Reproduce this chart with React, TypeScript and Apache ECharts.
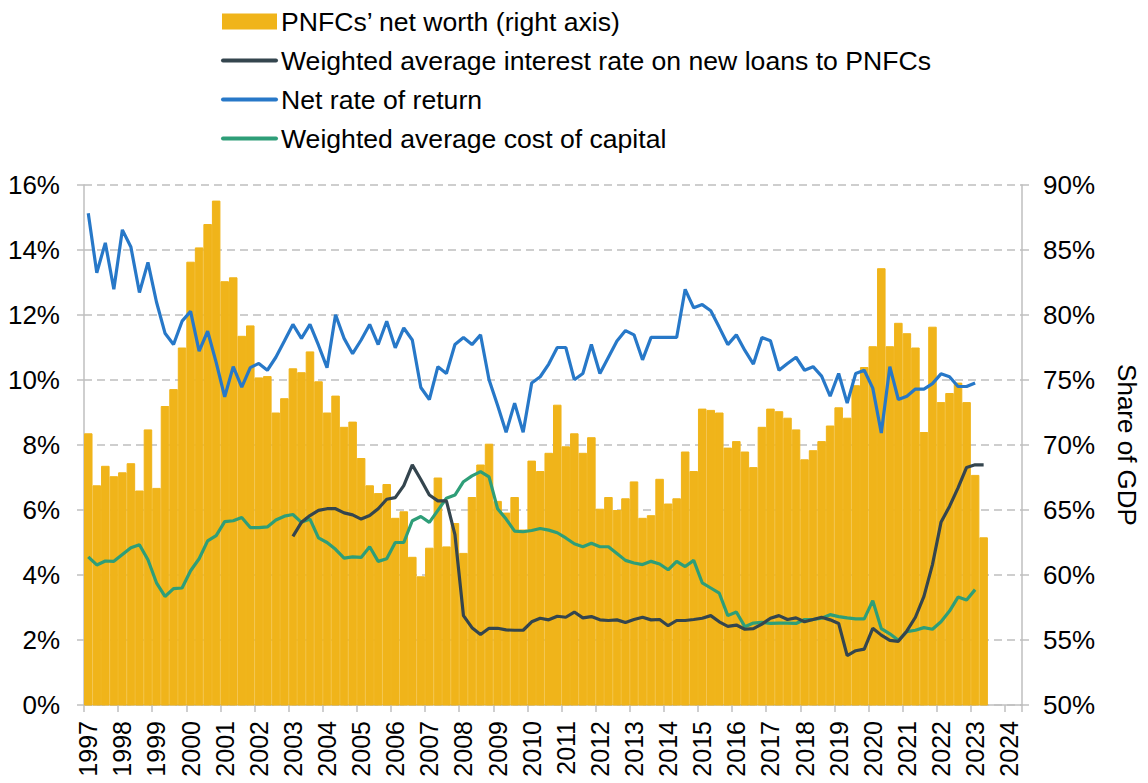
import React, { useEffect, useRef } from 'react';
import * as echarts from 'echarts';

// Quarterly categories 1997 Q1 .. 2024 Q2 (axis runs half a year past 2024)
const firstYear = 1997;
const lastYear = 2024;
const quarters: string[] = [];
for (let y = firstYear; y <= lastYear; y++) {
  for (let q = 1; q <= 4; q++) {
    if (y === lastYear && q > 2) break;
    quarters.push(`${y} Q${q}`);
  }
}

const NAME_NW = 'PNFCs\u2019 net worth (right axis)';
const NAME_IR = 'Weighted average interest rate on new loans to PNFCs';
const NAME_NR = 'Net rate of return';
const NAME_WACC = 'Weighted average cost of capital';

// PNFCs' net worth, % of GDP (right axis), 1997 Q1 .. 2023 Q2
const netWorth = [
  70.9, 66.9, 68.4, 67.6,
  67.9, 68.6, 66.5, 71.2,
  66.7, 73.0, 74.3, 77.5,
  84.1, 85.2, 87.0, 88.8,
  82.6, 82.9, 78.4, 79.2,
  75.2, 75.3, 72.5, 73.6,
  75.9, 75.6, 77.2, 74.9,
  72.5, 73.8, 71.4, 71.8,
  69.0, 66.9, 66.3, 67.0,
  64.4, 64.9, 61.4, 59.9,
  62.1, 67.5, 62.2, 64.0,
  61.7, 66.0, 68.5, 70.1,
  65.7, 64.8, 66.0, 63.5,
  68.8, 68.0, 69.4, 73.1,
  69.9, 70.9, 69.4, 70.6,
  65.1, 66.0, 65.0, 65.9,
  67.2, 64.4, 64.6, 67.4,
  65.5, 65.9, 69.5, 68.0,
  72.8, 72.7, 72.5, 69.8,
  70.3, 69.5, 68.3, 71.4,
  72.8, 72.6, 72.1, 71.2,
  68.9, 69.6, 70.3, 71.5,
  72.9, 72.1, 74.6, 76.0,
  77.6, 83.6, 77.6, 79.4,
  78.6, 77.5, 71.0, 79.1,
  73.3, 74.0, 74.8, 73.3,
  67.7, 62.9,
];

// Weighted average interest rate on new loans, %, 2003 Q1 .. 2023 Q2
const interestStart = '2003 Q1';
const interestRate = [
  5.19, 5.62, 5.83, 5.99,
  6.04, 6.04, 5.91, 5.85,
  5.72, 5.83, 6.04, 6.33,
  6.38, 6.75, 7.39, 6.94,
  6.46, 6.28, 6.28, 5.24,
  2.75, 2.38, 2.17, 2.36,
  2.36, 2.31, 2.30, 2.30,
  2.56, 2.67, 2.62, 2.73,
  2.70, 2.86, 2.68, 2.72,
  2.62, 2.60, 2.62, 2.54,
  2.63, 2.70, 2.62, 2.63,
  2.44, 2.60, 2.60, 2.63,
  2.67, 2.75, 2.56, 2.42,
  2.46, 2.33, 2.35, 2.49,
  2.67, 2.75, 2.63, 2.68,
  2.56, 2.63, 2.70, 2.62,
  2.51, 1.52, 1.67, 1.72,
  2.36, 2.15, 1.99, 1.96,
  2.28, 2.70, 3.34, 4.32,
  5.62, 6.11, 6.68, 7.31,
  7.39, 7.39,
];

// Net rate of return, %, 1997 Q1 .. 2023 Q1
const netReturn = [
  15.13, 13.30, 14.22, 12.79,
  14.62, 14.09, 12.69, 13.62,
  12.40, 11.44, 11.09, 11.81,
  12.11, 10.89, 11.50, 10.54,
  9.48, 10.41, 9.78, 10.38,
  10.51, 10.30, 10.70, 11.20,
  11.71, 11.28, 11.71, 11.07,
  10.38, 12.01, 11.28, 10.81,
  11.23, 11.71, 11.09, 11.81,
  10.99, 11.60, 11.23, 9.77,
  9.40, 10.41, 10.20, 11.09,
  11.31, 11.09, 11.39, 10.01,
  9.22, 8.39, 9.29, 8.39,
  9.91, 10.10, 10.49, 11.00,
  11.00, 10.01, 10.20, 11.09,
  10.20, 10.70, 11.20, 11.52,
  11.39, 10.62, 11.31, 11.31,
  11.31, 11.31, 12.79, 12.22,
  12.32, 12.13, 11.62, 11.09,
  11.39, 10.91, 10.49, 11.31,
  11.21, 10.30, 10.51, 10.70,
  10.30, 10.41, 10.12, 9.50,
  10.20, 9.29, 10.20, 10.30,
  9.75, 8.37, 10.41, 9.40,
  9.50, 9.72, 9.72, 9.89,
  10.19, 10.10, 9.80, 9.80,
  9.91,
];

// Weighted average cost of capital, %, 1997 Q1 .. 2023 Q1
const wacc = [
  4.56, 4.31, 4.43, 4.42,
  4.63, 4.84, 4.93, 4.47,
  3.76, 3.34, 3.58, 3.60,
  4.13, 4.50, 5.05, 5.21,
  5.64, 5.67, 5.77, 5.46,
  5.46, 5.48, 5.69, 5.81,
  5.86, 5.62, 5.72, 5.14,
  5.00, 4.79, 4.52, 4.56,
  4.54, 4.87, 4.42, 4.50,
  5.00, 5.00, 5.67, 5.80,
  5.62, 5.99, 6.36, 6.46,
  6.87, 7.05, 7.18, 7.02,
  6.04, 5.72, 5.35, 5.33,
  5.37, 5.43, 5.38, 5.30,
  5.14, 4.96, 4.87, 4.98,
  4.87, 4.87, 4.66, 4.45,
  4.37, 4.32, 4.42, 4.34,
  4.16, 4.42, 4.26, 4.45,
  3.76, 3.60, 3.44, 2.75,
  2.86, 2.41, 2.52, 2.54,
  2.51, 2.52, 2.52, 2.51,
  2.63, 2.63, 2.67, 2.78,
  2.72, 2.68, 2.65, 2.65,
  3.21, 2.35, 2.19, 1.99,
  2.26, 2.30, 2.38, 2.33,
  2.56, 2.89, 3.32, 3.23,
  3.55,
];

const FONT = '"Liberation Sans", Arial, Helvetica, sans-serif';
const GREY = '#BFBFBF';
const C_BAR = '#F0B41A';
const C_IR = '#34454E';
const C_NR = '#2778C8';
const C_WACC = '#2E9E78';

export default function App() {
  const ref = useRef<HTMLDivElement>(null);

  useEffect(() => {
    if (!ref.current) return;
    const chart = echarts.init(ref.current, undefined, { renderer: 'svg' });
    const irIdx = quarters.indexOf(interestStart);
    const irData = quarters.map((_, i) =>
      i >= irIdx && i - irIdx < interestRate.length ? interestRate[i - irIdx] : null
    );
    const isYearStart = (i: number) => i % 4 === 0;
    const lineLegend = (name: string) => ({
      name,
      itemStyle: { opacity: 0 },
      lineStyle: { width: 4, cap: 'round' },
    });

    chart.setOption({
      animation: false,
      textStyle: { fontFamily: FONT },
      legend: {
        orient: 'vertical',
        left: 221,
        top: 8,
        padding: 0,
        itemWidth: 53,
        itemHeight: 14,
        itemGap: 12,
        textStyle: { fontSize: 26.6, color: '#000', fontFamily: FONT },
        data: [
          { name: NAME_NW, icon: 'rect' },
          lineLegend(NAME_IR),
          lineLegend(NAME_NR),
          lineLegend(NAME_WACC),
        ],
      },
      grid: { left: 84, right: 126, top: 185, bottom: 78, containLabel: false },
      xAxis: {
        type: 'category',
        data: quarters,
        boundaryGap: true,
        axisLine: { show: true, lineStyle: { color: GREY, width: 1.5 } },
        axisTick: {
          show: true,
          interval: (i: number) => isYearStart(i),
          length: 7,
          lineStyle: { color: GREY, width: 1.5 },
        },
        axisLabel: {
          interval: (i: number) => isYearStart(i),
          formatter: (v: string) => v.slice(0, 4),
          rotate: 90,
          fontSize: 25,
          margin: 16,
          color: '#000',
          fontFamily: FONT,
        },
        splitLine: { show: false },
      },
      yAxis: [
        {
          type: 'value',
          min: 0,
          max: 16,
          interval: 2,
          position: 'left',
          axisLine: { show: true, lineStyle: { color: GREY, width: 1.5 } },
          axisTick: { show: true, length: 7, lineStyle: { color: GREY, width: 1.5 } },
          axisLabel: { formatter: '{value}%', fontSize: 26, margin: 24, color: '#000', fontFamily: FONT },
          splitLine: { show: true, lineStyle: { color: GREY, width: 1.5, type: [8, 5] } },
        },
        {
          type: 'value',
          min: 50,
          max: 90,
          interval: 5,
          position: 'right',
          name: 'Share of GDP',
          nameLocation: 'middle',
          nameRotate: -90,
          nameGap: 92,
          nameTextStyle: { fontSize: 26, color: '#000', fontFamily: FONT },
          axisLine: { show: true, lineStyle: { color: GREY, width: 1.5 } },
          axisTick: { show: true, length: 7, lineStyle: { color: GREY, width: 1.5 } },
          axisLabel: { formatter: '{value}%', fontSize: 26, margin: 21, color: '#000', fontFamily: FONT },
          splitLine: { show: false },
        },
      ],
      series: [
        {
          name: NAME_NW,
          type: 'bar',
          yAxisIndex: 1,
          data: netWorth,
          barCategoryGap: '0%',
          itemStyle: { color: C_BAR, borderColor: C_BAR, borderWidth: 1 },
          z: 1,
        },
        {
          name: NAME_IR,
          type: 'line',
          yAxisIndex: 0,
          data: irData,
          symbol: 'none',
          showSymbol: false,
          lineStyle: { color: C_IR, width: 3.2 },
          itemStyle: { color: C_IR },
          z: 4,
        },
        {
          name: NAME_NR,
          type: 'line',
          yAxisIndex: 0,
          data: netReturn,
          symbol: 'none',
          showSymbol: false,
          lineStyle: { color: C_NR, width: 3.2 },
          itemStyle: { color: C_NR },
          z: 3,
        },
        {
          name: NAME_WACC,
          type: 'line',
          yAxisIndex: 0,
          data: wacc,
          symbol: 'none',
          showSymbol: false,
          lineStyle: { color: C_WACC, width: 3.2 },
          itemStyle: { color: C_WACC },
          z: 3,
        },
      ],
    });

    return () => chart.dispose();
  }, []);

  return (
    <div
      ref={ref}
      style={{ position: 'fixed', left: 0, top: 0, width: 1148, height: 783, background: '#fff' }}
    />
  );
}
